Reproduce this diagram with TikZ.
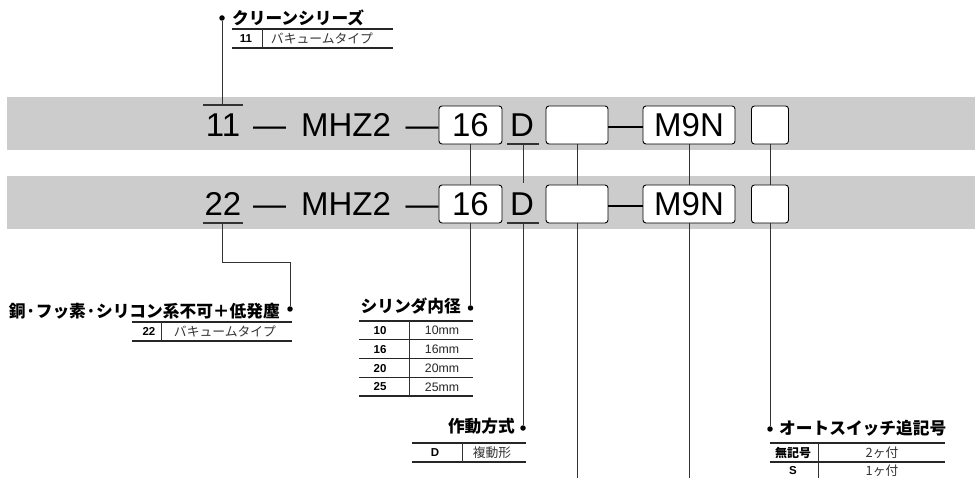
\documentclass[tikz,border=0pt]{standalone}
\usepackage{fontspec}
\setmainfont{Liberation Sans}
\newfontfamily\jp{Noto Sans CJK JP}
\usetikzlibrary{calc}
\definecolor{bargray}{HTML}{CCCCCC}
\tikzset{
  big/.style={font=\fontsize{33}{33}\selectfont, inner sep=0pt},
  pbox/.style={draw, rounded corners=3pt, fill=white, line width=0.9pt, minimum height=38pt, inner sep=0pt, font=\fontsize{33}{33}\selectfont},
  conn/.style={draw=black!80, line width=0.9pt},
  markline/.style={draw=black!80, line width=1.1pt},
  dotn/.style={circle, fill=black, inner sep=0pt, minimum size=5.5pt},
  head/.style={font=\jp\bfseries\fontsize{16.7}{16.7}\selectfont, inner sep=0pt},
  tline/.style={draw=black!85, line width=1.2pt},
  tsep/.style={draw=black!80, line width=0.8pt},
  numb/.style={font=\bfseries\fontsize{11.5}{11.5}\selectfont, inner sep=0pt},
  jpnumb/.style={font=\jp\bfseries\fontsize{12}{12}\selectfont, inner sep=0pt},
  cellt/.style={font=\fontsize{12.3}{12.3}\selectfont, text=black!85, inner sep=0pt},
  jpcell/.style={font=\jp\fontsize{12.8}{12.8}\selectfont, text=black!80, inner sep=0pt},
}
\begin{document}
\begin{tikzpicture}[x=1pt,y=-1pt]
\useasboundingbox (0,0) rectangle (975,478);
\fill[white] (0,0) rectangle (975,478);
% bars
\fill[bargray] (7,97) rectangle (975,150);
\fill[bargray] (7,176) rectangle (975,229);

% ---- row 1
\node[big, anchor=base] (n11) at (223,137) {11};
\node[big, anchor=base] (da1) at (269.5,137) {—};
\node[big, anchor=base] (mh1) at (346,137) {MHZ2};
\node[big, anchor=base] (da2) at (422,137) {—};
\node[pbox, minimum width=63pt] (b16a) at (470.5,125) {16};
\node[big, anchor=base] (d1) at (522,137) {D};
\node[pbox, minimum width=62pt] (bea) at (577,125) {};
\node[pbox, minimum width=92pt] (m9a) at (689,125) {M9N};
\node[pbox, minimum width=37pt] (bla) at (770,125) {};
\draw[line width=2pt] ([yshift=-2pt]bea.east) -- ([yshift=-2pt]m9a.west);
\coordinate (ol1l) at (203,105); \coordinate (ol1r) at (243,105); \coordinate (ol1) at (222,105);
\draw[markline] (ol1l) -- (ol1r);
\coordinate (du1l) at (507,144); \coordinate (du1r) at (539,144); \coordinate (du1) at (523,144);
\draw[markline] (du1l) -- (du1r);

% ---- row 2
\node[big, anchor=base] (n22) at (223,216) {22};
\node[big, anchor=base] (da3) at (269.5,216) {—};
\node[big, anchor=base] (mh2) at (346,216) {MHZ2};
\node[big, anchor=base] (da4) at (422,216) {—};
\node[pbox, minimum width=63pt] (b16b) at (470.5,204) {16};
\node[big, anchor=base] (d2) at (522,216) {D};
\node[pbox, minimum width=62pt] (beb) at (577,204) {};
\node[pbox, minimum width=92pt] (m9b) at (689,204) {M9N};
\node[pbox, minimum width=37pt] (blb) at (770,204) {};
\draw[line width=2pt] ([yshift=-2pt]beb.east) -- ([yshift=-2pt]m9b.west);
\coordinate (ul2l) at (203,223); \coordinate (ul2r) at (243,223); \coordinate (ul2) at (222,223);
\draw[markline] (ul2l) -- (ul2r);
\coordinate (du2l) at (507,223); \coordinate (du2r) at (539,223); \coordinate (du2) at (523,223);
\draw[markline] (du2l) -- (du2r);
\coordinate (dtop) at (523,183);

% ---- top callout
\node[dotn] (t0) at (222,18) {};
\node[head, anchor=west] (th) at (232,18) {クリーンシリーズ};
\draw[conn] (t0) -- (ol1);
\coordinate (tt1) at (232,29); \coordinate (tt2) at (393,29);
\coordinate (tb1) at (232,48); \coordinate (tb2) at (393,48);
\coordinate (ts1) at (262,29); \coordinate (ts2) at (262,48);
\draw[tline] (tt1) -- (tt2); \draw[tline] (tb1) -- (tb2); \draw[tsep] (ts1) -- (ts2);
\node[numb] (tn) at (246,38.5) {11};
\node[jpcell] (tj) at (322,38.5) {バキュームタイプ};

% ---- left callout
\node[dotn] (l0) at (290,309) {};
\node[head, anchor=east] (lh) at (280,311) {銅·フッ素·シリコン系不可＋低発塵};
\coordinate (k22) at (222,262);
\draw[conn] (ul2) -- (k22) -| (l0);
\coordinate (lt1) at (132,322); \coordinate (lt2) at (292,322);
\coordinate (lb1) at (132,341); \coordinate (lb2) at (292,341);
\coordinate (ls1) at (161,322); \coordinate (ls2) at (161,341);
\draw[tline] (lt1) -- (lt2); \draw[tline] (lb1) -- (lb2); \draw[tsep] (ls1) -- (ls2);
\node[numb] (ln) at (149,331.5) {22};
\node[jpcell] (lj) at (225,331.5) {バキュームタイプ};

% ---- cylinder bore
\node[dotn] (c0) at (470.5,308) {};
\node[head, anchor=east] (ch) at (461,306) {シリンダ内径};
\foreach \yy in {321,339.5,358.5,377.5,396} {
  \coordinate (cl1) at (359,\yy); \coordinate (cl2) at (473,\yy);
  \draw[tline] (cl1) -- (cl2);
}
\coordinate (cs1) at (409,321); \coordinate (cs2) at (409,396);
\draw[tsep] (cs1) -- (cs2);
\node[numb] (c10) at (380,330.3) {10}; \node[cellt] (c10v) at (442,330.3) {10mm};
\node[numb] (c16) at (380,349.3) {16}; \node[cellt] (c16v) at (442,349.3) {16mm};
\node[numb] (c20) at (380,368.3) {20}; \node[cellt] (c20v) at (442,368.3) {20mm};
\node[numb] (c25) at (380,387) {25}; \node[cellt] (c25v) at (442,387) {25mm};

% ---- action
\node[dotn] (a0) at (523,428) {};
\node[head, anchor=east] (ah) at (515,426) {作動方式};
\coordinate (at1) at (412,443); \coordinate (at2) at (526,443);
\coordinate (ab1) at (412,462); \coordinate (ab2) at (526,462);
\coordinate (as1) at (462,443); \coordinate (as2) at (462,462);
\draw[tline] (at1) -- (at2); \draw[tline] (ab1) -- (ab2); \draw[tsep] (as1) -- (as2);
\node[numb] (an) at (435,452.5) {D};
\node[jpcell] (aj) at (492,452.5) {複動形};

% ---- auto switch
\node[dotn] (s0) at (770,429) {};
\node[head, anchor=west] (sh) at (779,428) {オートスイッチ追記号};
\coordinate (st1) at (770,443); \coordinate (st2) at (945,443);
\coordinate (sb1) at (770,462); \coordinate (sb2) at (945,462);
\coordinate (ss1) at (818,443); \coordinate (ss2) at (818,478);
\draw[tline] (st1) -- (st2); \draw[tline] (sb1) -- (sb2); \draw[tsep] (ss1) -- (ss2);
\node[jpnumb] (s1n) at (793,452.5) {無記号}; \node[jpcell] (s1v) at (882,452.5) {2ヶ付};
\node[numb] (s2n) at (793,471) {S}; \node[jpcell] (s2v) at (882,471) {1ヶ付};

% ---- vertical connectors
\coordinate (bot1) at (577,478);
\coordinate (bot2) at (689,478);
\draw[conn] (b16a.south) -- (b16b.north);
\draw[conn] (b16b.south) -- (c0);
\draw[conn] (du1) -- (dtop);
\draw[conn] (du2) -- (a0);
\draw[conn] (bea.south) -- (beb.north);
\draw[conn] (beb.south) -- (bot1);
\draw[conn] (m9a.south) -- (m9b.north);
\draw[conn] (m9b.south) -- (bot2);
\draw[conn] (bla.south) -- (blb.north);
\draw[conn] (blb.south) -- (s0);
\end{tikzpicture}
\end{document}
